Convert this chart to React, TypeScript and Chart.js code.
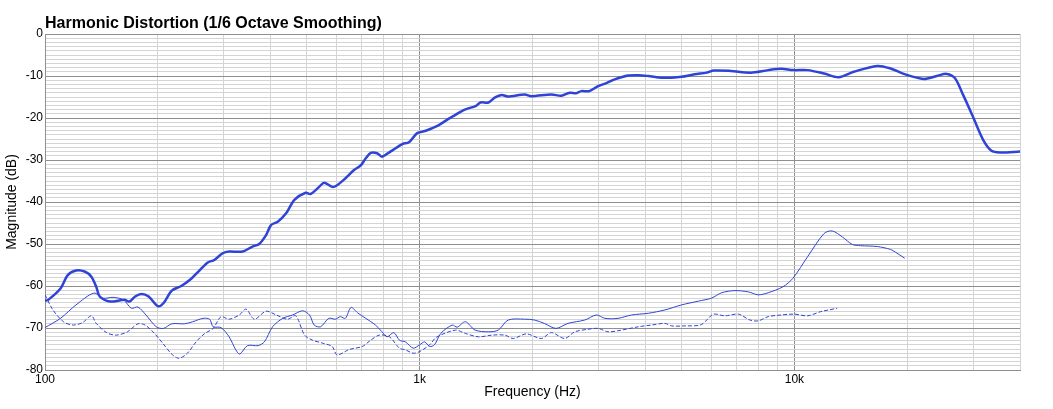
import { useEffect, useRef } from 'react'
import Chart from 'chart.js/auto'

// ─── Данные ─────────────────────────────────────────────────────────────────
const mainFreq = [
  100, 102, 110, 115, 121, 128, 133, 137, 140, 149, 163, 168, 174, 181, 189, 200, 207, 218, 231, 246, 259, 272, 283,
  298, 310, 337, 358, 373, 389, 401, 418, 440, 463, 496, 511, 539, 556, 584, 602, 633, 668, 696, 718, 740, 770, 793,
  835, 899, 936, 985, 1033, 1075, 1125, 1180, 1233, 1310, 1414, 1452, 1526, 1589, 1655, 1722, 1906, 1985, 2247, 2387,
  2513, 2616, 2697, 2835, 2995, 3150, 3314, 3601, 3835, 4071, 4424, 4700, 4999, 5420, 5835, 6100, 6760, 7640, 8513,
  9215, 9930, 10850, 12000, 13130, 14400, 16640, 18050, 19580, 22110, 23980, 25500, 26800, 28200, 29960, 31890,
  33570, 35340, 40000,
]
const mainDb = [
  -63.5, -63.3, -60.6, -57.4, -56.3, -56.6, -57.8, -60.2, -62.5, -63.7, -63.3, -63.7, -62.5, -61.9, -62.5, -64.8,
  -64.1, -61.1, -60.0, -58.2, -56.2, -54.4, -53.8, -52.2, -51.8, -51.8, -50.6, -50.0, -47.9, -45.5, -44.7, -42.7,
  -39.5, -37.8, -38.1, -36.4, -35.4, -36.4, -36.0, -34.4, -32.4, -31.3, -29.6, -28.3, -28.4, -29.2, -28.0, -26.2,
  -25.8, -23.6, -23.1, -22.5, -21.7, -20.5, -19.5, -18.1, -17.1, -16.3, -16.3, -15.1, -14.5, -14.9, -14.4, -14.8,
  -14.4, -14.7, -14.0, -14.1, -13.6, -13.6, -12.4, -11.7, -10.8, -9.9, -9.8, -10.0, -10.4, -10.4, -10.2, -9.6, -9.2,
  -8.7, -8.8, -9.2, -8.6, -8.3, -8.6, -8.6, -9.4, -10.3, -9.0, -7.6, -8.2, -9.5, -10.7, -10.0, -9.5, -10.5, -14.5,
  -19.7, -25.2, -27.8, -28.2, -28.0,
]

const h2Freq = [
  100, 110, 121, 135, 143, 152, 162, 170, 177, 186, 198, 207, 218, 236, 248, 264, 275, 281, 295, 310, 323, 331, 347,
  370, 385, 405, 431, 458, 487, 508, 523, 544, 572, 596, 614, 633, 656, 683, 718, 762, 793, 818, 853, 883, 916, 961,
  1000, 1031, 1063, 1095, 1138, 1221, 1259, 1324, 1406, 1526, 1621, 1722, 1906, 2024, 2150, 2310, 2487, 2757, 2963,
  3119, 3384, 3673, 4071, 4513, 4999, 5547, 6007, 6394, 6941, 7533, 8006, 8513, 9313, 9900, 10850, 12000, 12620,
  13420, 14270, 15020, 16640, 18050, 18790, 19700,
]
const h2Db = [
  -69.9, -67.7, -64.5, -61.7, -62.9, -62.7, -63.3, -65.3, -65.0, -66.9, -69.7, -70.1, -69.0, -69.0, -68.5, -67.7,
  -67.9, -69.7, -69.9, -72.1, -75.2, -76.2, -74.2, -74.2, -73.3, -69.7, -67.7, -66.9, -65.9, -66.9, -69.3, -69.7,
  -67.7, -67.9, -67.3, -67.7, -65.1, -66.4, -67.7, -69.3, -70.9, -72.1, -71.1, -72.9, -73.3, -74.8, -74.0, -73.3,
  -74.4, -74.0, -71.3, -69.3, -69.8, -68.5, -70.5, -70.9, -70.5, -68.1, -67.9, -68.1, -68.9, -70.1, -68.9, -68.1,
  -66.9, -67.7, -67.7, -66.9, -66.5, -65.7, -64.5, -63.6, -62.9, -61.6, -61.1, -61.4, -62.1, -61.6, -60.2, -58.2,
  -53.0, -47.5, -46.9, -48.3, -50.1, -50.4, -50.6, -51.3, -52.2, -53.4,
]

const h3Freq = [
  100, 105, 112, 119, 126, 133, 137, 146, 155, 166, 177, 185, 196, 206, 219, 228, 240, 253, 267, 281, 295, 310, 330,
  344, 362, 389, 414, 444, 467, 493, 518, 550, 584, 602, 649, 703, 740, 780, 830, 883, 916, 961, 1000, 1063, 1108,
  1247, 1324, 1436, 1556, 1688, 1776, 1926, 2111, 2247, 2437, 2594, 2815, 2995, 3183, 3453, 3835, 4155, 4513, 4702,
  5102, 5605, 5835, 6081, 6524, 7087, 7611, 8006, 8513, 9215, 10000, 10850, 11760, 13010,
]
const h3Db = [
  -62.1, -65.7, -68.5, -69.3, -68.7, -67.1, -68.9, -71.1, -71.7, -70.9, -69.0, -69.3, -71.3, -73.6, -76.4, -77.2,
  -76.0, -73.3, -71.3, -70.1, -67.3, -67.9, -66.9, -65.5, -67.9, -66.0, -66.9, -67.9, -67.1, -71.7, -72.9, -73.6,
  -74.4, -76.4, -75.1, -74.4, -72.9, -71.7, -72.1, -74.8, -75.2, -76.0, -75.6, -74.0, -72.2, -70.5, -71.3, -72.1,
  -71.7, -71.7, -72.5, -71.4, -72.5, -71.1, -72.5, -70.9, -70.3, -70.1, -70.9, -70.5, -69.7, -69.3, -68.9, -69.5,
  -69.5, -69.3, -68.1, -66.7, -67.1, -66.7, -68.1, -68.3, -67.3, -66.9, -66.7, -67.1, -66.1, -65.3,
]

// Подписи оси X: только декады
const xLabels: Record<number, string> = { 100: '100', 1000: '1k', 10000: '10k' }
const xGrid = [
  100, 200, 300, 400, 500, 600, 700, 800, 900, 1000, 2000, 3000, 4000, 5000, 6000, 7000, 8000, 9000, 10000, 20000,
  30000, 40000,
]

const BLUE = '#2f44d6'
const FONT = '"Liberation Sans", Arial, Helvetica, sans-serif'
const MAJOR = '#8f8f8f'
const MINOR = '#d4d4d4'

const pts = (f: number[], d: number[]) => f.map((x, i) => ({ x, y: d[i] }))

const titlePlugin = {
  id: 'hdTitle',
  afterDraw(chart: Chart) {
    const ctx = chart.ctx
    ctx.save()
    ctx.font = `bold 16px ${FONT}`
    ctx.fillStyle = '#000'
    ctx.textBaseline = 'middle'
    ctx.textAlign = 'left'
    ctx.fillText('Harmonic Distortion (1/6 Octave Smoothing)', chart.chartArea.left, 24)
    ctx.restore()
  },
}

export default function App() {
  const canvasRef = useRef<HTMLCanvasElement>(null)

  useEffect(() => {
    const canvas = canvasRef.current
    if (!canvas) return
    const chart = new Chart(canvas, {
      type: 'line',
      data: {
        datasets: [
          {
            data: pts(mainFreq, mainDb),
            borderColor: BLUE,
            borderWidth: 2.5,
            pointRadius: 0,
            tension: 0.3,
          },
          {
            data: pts(h2Freq, h2Db),
            borderColor: BLUE,
            borderWidth: 1,
            pointRadius: 0,
            tension: 0.3,
          },
          {
            data: pts(h3Freq, h3Db),
            borderColor: BLUE,
            borderWidth: 1,
            borderDash: [4, 2],
            pointRadius: 0,
            tension: 0.3,
          },
        ],
      },
      options: {
        responsive: false,
        animation: false,
        layout: { padding: { left: 0, top: 34, right: 33, bottom: 0 } },
        plugins: { legend: { display: false }, tooltip: { enabled: false } },
        scales: {
          x: {
            type: 'logarithmic',
            min: 100,
            max: 40000,
            afterBuildTicks: (s: any) => {
              s.ticks = xGrid.map((v) => ({ value: v }))
            },
            afterFit: (s: any) => {
              s.height = 39
            },
            grid: {
              drawTicks: false,
              color: (c: any) => (xLabels[c.tick?.value] ? MAJOR : MINOR),
              lineWidth: 1,
            },
            border: { color: MAJOR, width: 1 },
            ticks: {
              autoSkip: false,
              maxRotation: 0,
              padding: 2,
              color: '#000',
              font: { family: FONT, size: 12 },
              callback: (v: any) => xLabels[Number(v)] ?? '',
            },
            title: {
              display: true,
              text: 'Frequency (Hz)',
              color: '#000',
              font: { family: FONT, size: 14 },
              padding: { top: 0, bottom: 8 },
            },
          },
          y: {
            min: -80,
            max: 0,
            afterFit: (s: any) => {
              s.width = 45
            },
            grid: {
              drawTicks: false,
              color: (c: any) => (c.tick && c.tick.value % 10 === 0 ? MAJOR : MINOR),
              lineWidth: 1,
            },
            border: { color: MAJOR, width: 1 },
            ticks: {
              stepSize: 1,
              autoSkip: false,
              padding: 2,
              color: '#000',
              font: { family: FONT, size: 12 },
              callback: (v: any) => (Number(v) % 10 === 0 ? String(v) : ''),
            },
            title: {
              display: true,
              text: 'Magnitude (dB)',
              color: '#000',
              font: { family: FONT, size: 14 },
              padding: { top: 4, bottom: 0 },
            },
          },
        },
      },
      plugins: [titlePlugin],
    })
    return () => chart.destroy()
  }, [])

  return (
    <div style={{ position: 'fixed', left: 0, top: 0, width: 1053, height: 409, background: '#fff' }}>
      <canvas ref={canvasRef} width={1053} height={409} style={{ width: 1053, height: 409 }} />
    </div>
  )
}
